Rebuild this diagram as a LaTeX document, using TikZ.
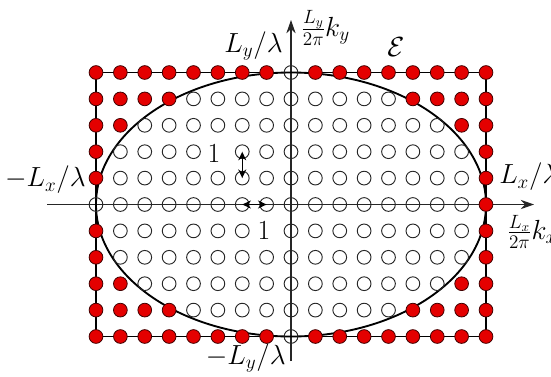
\documentclass[tikz,border=0pt]{standalone}
\usetikzlibrary{arrows.meta}
\definecolor{dotred}{RGB}{228,0,0}
\tikzset{
  opendot/.style={circle,draw=black!85,line width=0.7pt,minimum size=10.3pt,inner sep=0pt},
  reddot/.style={circle,draw=black!75!red,fill=dotred,line width=0.6pt,minimum size=10.3pt,inner sep=0pt},
  lbl/.style={font=\fontsize{20}{24}\selectfont,inner sep=0pt},
  axisline/.style={line width=0.8pt,black!85},
  boxline/.style={line width=1.3pt,black},
  ellline/.style={line width=1.4pt,black},
  unitarrow/.style={line width=1pt,{Stealth[length=6.5pt,width=6pt]}-{Stealth[length=6.5pt,width=6pt]}}
}
\begin{document}
\begin{tikzpicture}[x=0.75pt,y=-0.75pt]
\useasboundingbox[fill=white] (0,0) rectangle (551,376);
% grid coordinates
\foreach \i in {-8,...,8}{
  \foreach \j in {-5,...,5}{
    \coordinate (c\i n\j) at ({291+24.375*\i},{204.5-26.4*\j});
  }
}
% axes
\coordinate (xl) at (47,204.5);
\coordinate (xr) at (534,204.5);
\coordinate (yt) at (291,20);
\coordinate (yb) at (291,361);
\draw[axisline,-{Stealth[length=10pt,width=7pt]}] (xl) -- (xr);
\draw[axisline,-{Stealth[length=10pt,width=7pt]}] (yb) -- (yt);
% rectangle and ellipse
\draw[boxline] (c-8n5) rectangle (c8n-5);
\coordinate (o) at (291,204.5);
\draw[ellline] (o) ellipse [x radius=195, y radius=132];
% dots
\foreach \i in {-8,...,8}{
  \foreach \j in {-5,...,5}{
    \pgfmathtruncatemacro\v{25*\i*\i+64*\j*\j}
    \def\kind{0}
    \ifnum\v>1600 \def\kind{1}\fi
    \ifnum\i=8 \ifnum\j=0 \def\kind{1}\fi\fi
    \ifnum\i=-3 \ifnum\j=2 \def\kind{2}\fi\fi
    \ifnum\i=-1 \ifnum\j=-1 \def\kind{2}\fi\fi
    \ifcase\kind
      \node[opendot] (p\i n\j) at (c\i n\j) {};
    \or
      \node[reddot] (p\i n\j) at (c\i n\j) {};
    \else
    \fi
  }
}
% unit arrows
\draw[unitarrow] (p-2n2.center) -- (p-2n1.center);
\draw[unitarrow] (p-2n0.center) -- (p-1n0.center);
% labels
\node[lbl] (one1) at (214,154) {$1$};
\node[lbl] (one2) at (264,231) {$1$};
\node[lbl,anchor=east] (lyl) at (283,46) {$L_y/\lambda$};
\node[lbl,anchor=west] (kyl) at (301,28) {$\frac{L_y}{2\pi}k_y$};
\node[lbl] (cale) at (396,47) {$\mathcal{E}$};
\node[lbl,anchor=east] (mlx) at (86,180) {$-L_x/\lambda$};
\node[lbl,anchor=west] (lxl) at (499,177) {$L_x/\lambda$};
\node[lbl,anchor=west] (kxl) at (507,232) {$\frac{L_x}{2\pi}k_x$};
\node[lbl,anchor=east] (mly) at (286,358) {$-L_y/\lambda$};
\end{tikzpicture}
\end{document}
